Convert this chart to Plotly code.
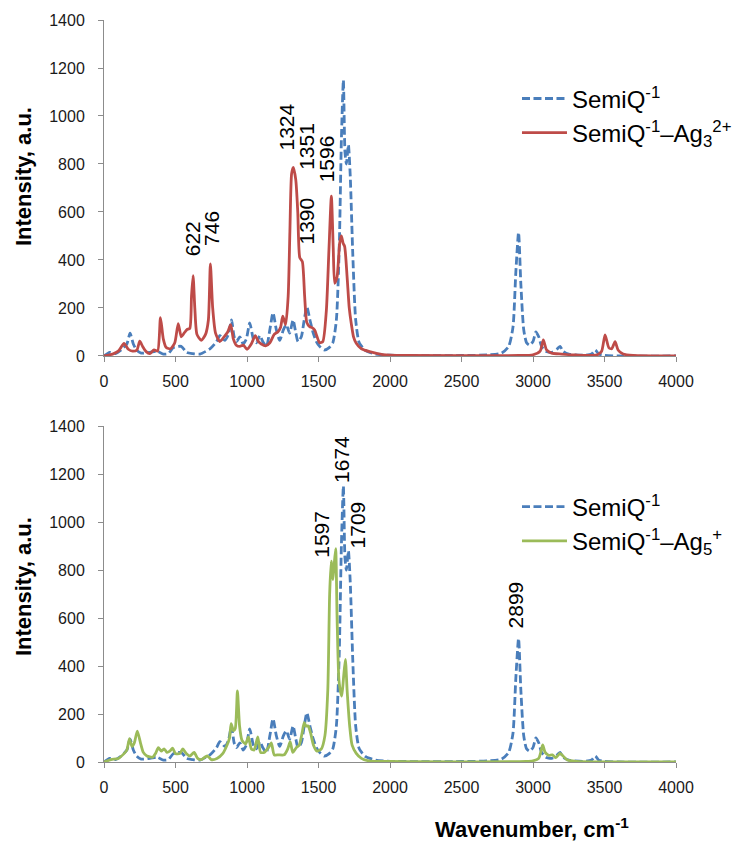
import plotly.graph_objects as go

# IR spectra (wavenumber in cm^-1, intensity in a.u.)
semiq_x = [0, 40, 80, 120, 160, 182, 205, 228, 260, 321, 370, 415, 450, 485, 540, 578, 620,
           671, 741, 787, 810, 845, 870, 892, 910, 927, 950, 973, 995, 1019, 1045, 1066, 1090,
           1110, 1136, 1160, 1182, 1205, 1229, 1255, 1275, 1298, 1322, 1340, 1357, 1380, 1400,
           1419, 1440, 1461, 1485, 1508, 1540, 1575, 1600, 1625, 1645, 1660, 1674, 1685, 1695,
           1709, 1722, 1740, 1760, 1785, 1830, 1900, 2000, 2500, 2700, 2780, 2830, 2860, 2880,
           2899, 2915, 2935, 2955, 2975, 3000, 3020, 3040, 3060, 3090, 3130, 3170, 3190, 3210,
           3250, 3350, 3410, 3435, 3460, 3500, 3600, 4000]
semiq_y = [0, 15, 10, 25, 50, 95, 50, 25, 12, 15, 20, 8, 10, 35, 40, 15, 10,
           8, 30, 60, 85, 65, 90, 150, 80, 60, 80, 50, 70, 138, 70, 55, 85,
           60, 40, 110, 180, 110, 65, 110, 130, 95, 150, 100, 60, 80, 150,
           205, 150, 100, 60, 40, 25, 35, 55, 150, 450, 900, 1150, 850, 800,
           880, 750, 420, 150, 55, 22, 8, 3, 2, 5, 12, 40, 120, 350,
           515, 300, 110, 55, 45, 60, 100, 80, 40, 20, 15, 30, 40, 20,
           8, 3, 8, 25, 8, 3, 0, 0]

ag3_x = [0, 60, 100, 140, 170, 200, 230, 250, 270, 295, 320, 350, 375, 395, 415, 435, 465,
         495, 519, 540, 560, 580, 600, 612, 623, 635, 650, 680, 710, 730, 744, 760, 780, 810,
         840, 865, 886, 905, 925, 950, 975, 1000, 1030, 1058, 1080, 1100, 1130, 1160, 1190,
         1215, 1235, 1250, 1270, 1288, 1300, 1312, 1324, 1341, 1355, 1369, 1387, 1403, 1418,
         1438, 1455, 1473, 1490, 1508, 1530, 1555, 1573, 1590, 1603, 1613, 1630, 1648, 1660,
         1672, 1683, 1700, 1715, 1729, 1745, 1764, 1800, 1857, 1950, 2100, 2900, 3000, 3050,
         3072, 3095, 3130, 3200, 3300, 3450, 3480, 3504, 3530, 3550, 3574, 3595, 3630, 3700,
         4000]
ag3_y = [0, 8, 20, 52, 28, 20, 25, 62, 40, 18, 10, 25, 20, 160, 70, 35, 30,
         55, 135, 80, 95, 110, 115, 250, 335, 200, 90, 65, 90, 150, 384, 200, 95, 60,
         80, 100, 131, 70, 45, 40, 45, 28, 50, 85, 60, 50, 42, 55, 90,
         100, 120, 166, 130, 250, 520, 760, 786, 735, 600, 410, 393, 250, 140,
         122, 118, 108, 80, 55, 60, 190, 442, 666, 450, 303, 330, 470, 500,
         470, 456, 330, 200, 136, 80, 53, 30, 18, 6, 2, 2, 5, 20,
         67, 25, 12, 8, 4, 5, 20, 88, 35, 30, 60, 25, 8, 2,
         0]

ag5_x = [0, 50, 100, 140, 160, 178, 195, 212, 233, 255, 275, 300, 340, 360, 380, 400, 420,
         440, 460, 480, 500, 530, 551, 575, 600, 630, 655, 680, 705, 725, 750, 790, 830, 860,
         878, 889, 905, 918, 933, 948, 965, 990, 1010, 1030, 1050, 1075, 1095, 1120, 1150,
         1170, 1190, 1220, 1260, 1285, 1302, 1320, 1345, 1365, 1385, 1400, 1412, 1428, 1445,
         1465, 1490, 1520, 1545, 1565, 1578, 1589, 1600, 1608, 1620, 1630, 1642, 1655, 1663,
         1675, 1688, 1700, 1718, 1735, 1764, 1800, 1850, 2000, 2950, 3000, 3040, 3060, 3068,
         3085, 3110, 3135, 3160, 3188, 3210, 3240, 3300, 4000]
ag5_y = [0, 10, 15, 35, 50, 97, 65, 80, 129, 80, 40, 25, 20, 35, 60, 45, 55,
         40, 45, 58, 35, 35, 55, 35, 25, 40, 15, 10, 20, 25, 10, 15, 35, 70,
         100, 160, 130, 140, 296, 150, 90, 75, 105, 55, 50, 105, 40, 40, 60,
         80, 30, 30, 30, 55, 85, 40, 60, 70, 120, 164, 150, 150, 120,
         70, 45, 55, 110, 300, 700, 837, 760, 810, 889, 600, 350, 290, 275,
         350, 428, 300, 150, 70, 36, 15, 5, 2, 2, 5, 15, 55, 71,
         40, 28, 30, 18, 36, 25, 8, 3, 0]

# Peak labels: wavenumber text, label base height (a.u.), horizontal nudge (px)
top_labels = ["622", "746", "1324", "1351", "1390", "1596"]
top_label_y = [409, 451, 847, 768, 455, 714]
top_label_dx = [-1, 1, -7, 8.5, 3.5, -6]

bottom_labels = ["1597", "1674", "1709", "2899"]
bottom_label_y = [842, 1154, 883, 550]
bottom_label_dx = [-11, -2, 9.5, -2.6]

BLUE = "#4A7EBB"
RED = "#BE4B48"
GREEN = "#9BBB59"
FONT = "Liberation Sans, Arial, sans-serif"
DASH = "8px,3.5px"

name_semiq = "SemiQ<sup>-1</sup>"
name_ag3 = "SemiQ<sup>-1</sup>–Ag<sub>3</sub><sup>2+</sup>"
name_ag5 = "SemiQ<sup>-1</sup>–Ag<sub>5</sub><sup>+</sup>"

fig = go.Figure()

fig.add_trace(go.Scatter(x=semiq_x, y=semiq_y, mode="lines", name=name_semiq,
                         line=dict(color=BLUE, width=2.8, dash=DASH, shape="spline", smoothing=0.6),
                         xaxis="x", yaxis="y", legend="legend", legendgroup="a"))
fig.add_trace(go.Scatter(x=ag3_x, y=ag3_y, mode="lines", name=name_ag3,
                         line=dict(color=RED, width=2.8, shape="spline", smoothing=0.6),
                         xaxis="x", yaxis="y", legend="legend", legendgroup="b"))
fig.add_trace(go.Scatter(x=semiq_x, y=semiq_y, mode="lines", name=name_semiq,
                         line=dict(color=BLUE, width=2.8, dash=DASH, shape="spline", smoothing=0.6),
                         xaxis="x2", yaxis="y2", legend="legend2", legendgroup="c"))
fig.add_trace(go.Scatter(x=ag5_x, y=ag5_y, mode="lines", name=name_ag5,
                         line=dict(color=GREEN, width=2.8, shape="spline", smoothing=0.6),
                         xaxis="x2", yaxis="y2", legend="legend2", legendgroup="d"))

axis_common = dict(
    showgrid=False, zeroline=False, showline=True, linecolor="#8C8C8C", linewidth=1,
    ticks="outside", ticklen=5, tickcolor="#8C8C8C", tickwidth=1,
    tickfont=dict(family=FONT, size=16, color="#1A1A1A"),
)
xaxis_common = dict(range=[0, 4000], dtick=500, ticklabelstandoff=6, **axis_common)
yaxis_common = dict(range=[0, 1400], dtick=200, ticklabelstandoff=10, **axis_common)

legend_common = dict(xanchor="left", yanchor="top", bgcolor="rgba(0,0,0,0)",
                     font=dict(family=FONT, size=24, color="#000000"), itemwidth=45,
                     tracegroupgap=0)

fig.update_layout(
    width=753, height=841,
    margin=dict(l=104, r=77, t=20, b=79),
    paper_bgcolor="white", plot_bgcolor="white",
    font=dict(family=FONT, color="#000000"),
    xaxis=dict(domain=[0, 1], anchor="y", **xaxis_common),
    yaxis=dict(domain=[0.5472, 1], anchor="x", **yaxis_common),
    xaxis2=dict(domain=[0, 1], anchor="y2", **xaxis_common),
    yaxis2=dict(domain=[0, 0.4528], anchor="x2", **yaxis_common),
    legend=dict(x=0.722, y=0.924, **legend_common),
    legend2=dict(x=0.722, y=0.374, **legend_common),
    showlegend=True,
)

annotations = []
for txt, yv, dx in zip(top_labels, top_label_y, top_label_dx):
    annotations.append(dict(x=float(txt), y=yv, xref="x", yref="y", text=txt, showarrow=False,
                            textangle=-90, xanchor="center", yanchor="bottom", xshift=dx,
                            font=dict(family=FONT, size=21, color="#000000")))
for txt, yv, dx in zip(bottom_labels, bottom_label_y, bottom_label_dx):
    annotations.append(dict(x=float(txt), y=yv, xref="x2", yref="y2", text=txt, showarrow=False,
                            textangle=-90, xanchor="center", yanchor="bottom", xshift=dx,
                            font=dict(family=FONT, size=21, color="#000000")))

# Axis titles
for yc in (0.7884, 0.2358):
    annotations.append(dict(x=-0.1416, y=yc, xref="paper", yref="paper",
                            text="<b>Intensity, a.u.</b>", showarrow=False, textangle=-90,
                            xanchor="center", yanchor="middle",
                            font=dict(family=FONT, size=22, color="#000000")))
annotations.append(dict(x=0.748, y=-0.089, xref="paper", yref="paper",
                        text="<b>Wavenumber, cm<sup>-1</sup></b>", showarrow=False,
                        xanchor="center", yanchor="middle",
                        font=dict(family=FONT, size=22, color="#000000")))

fig.update_layout(annotations=annotations)

fig.write_html("out.html")
